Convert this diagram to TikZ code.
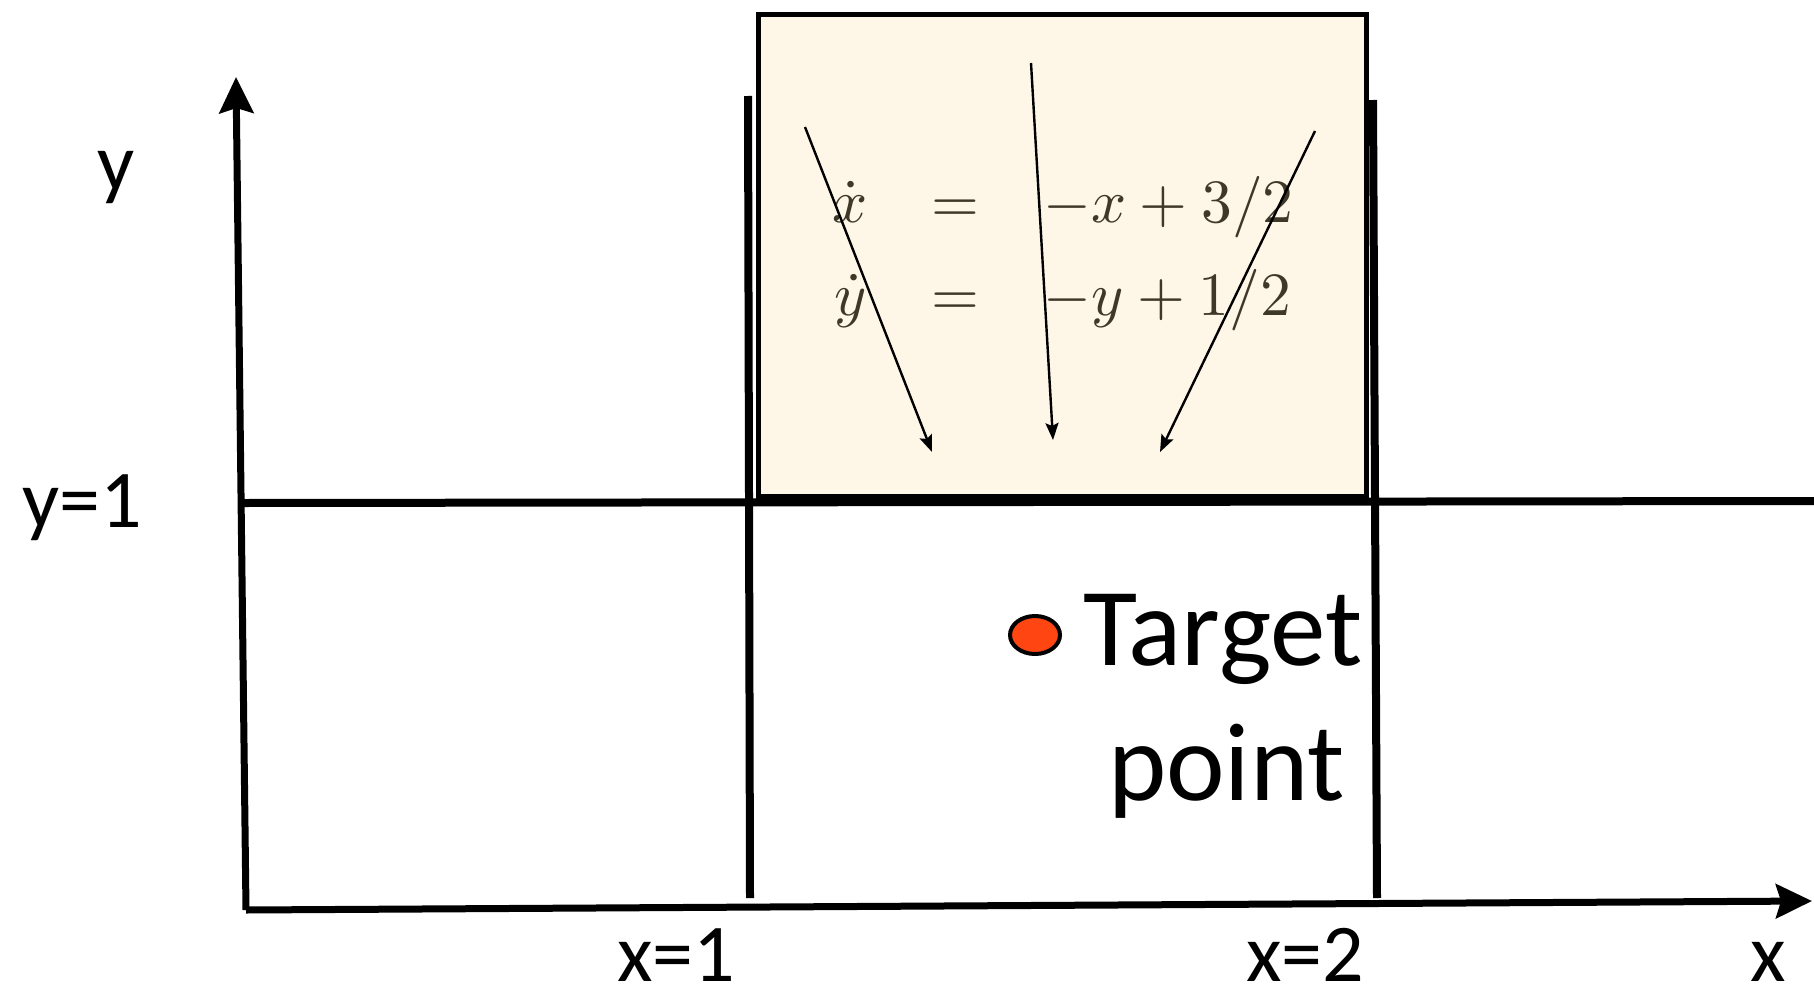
\documentclass[tikz,border=0pt]{standalone}
\usepackage{graphicx}
\usepackage{fontspec}
\setmainfont{Carlito}
\usetikzlibrary{arrows.meta,shapes.geometric}
\definecolor{boxfill}{HTML}{FEF6E7}
\definecolor{eqcol}{HTML}{3E3829}
\definecolor{dotred}{HTML}{FF4512}
\newcommand{\eqm}[1]{\scalebox{6.15}{$#1$}}
\begin{document}
\begin{tikzpicture}[x=1pt,y=-1pt,
  axis/.style={line width=7pt,-{Stealth[length=36pt,width=34pt,inset=5pt]}},
  guide/.style={line width=8pt},
  flow/.style={line width=2.4pt,-{Stealth[length=17pt,width=13pt,inset=3pt]}},
  lbl/.style={font=\fontsize{82}{98}\selectfont,inner sep=0pt,anchor=base west},
  big/.style={font=\fontsize{111}{133}\selectfont,inner sep=0pt,anchor=base west},
  eq/.style={font=\fontsize{10}{12}\selectfont,text=eqcol,inner sep=0pt,anchor=base west}]
\useasboundingbox (0,0) rectangle (1814,990);

% shaded box
\node[draw,line width=5pt,fill=boxfill,inner sep=0pt,minimum width=608pt,minimum height=482pt] (box) at (1062.5,255.5) {};

% equations
\node[eq] (xd) at (832,222) {\eqm{\dot{x}}};
\node[eq] (eqa) at (931,222) {\eqm{=}};
\node[eq] (rhsa) at (1043,222) {\eqm{-x+3/2}};
\node[eq] (yd) at (834,315) {\eqm{\dot{y}}};
\node[eq] (eqb) at (931,315) {\eqm{=}};
\node[eq] (rhsb) at (1043,315) {\eqm{-y+1/2}};

% flow arrows
\coordinate (f1s) at (805,127);
\coordinate (f1e) at (932,452);
\coordinate (f2s) at (1031,63);
\coordinate (f2e) at (1053,440);
\coordinate (f3s) at (1315,131);
\coordinate (f3e) at (1160,452);
\draw[flow] (f1s) -- (f1e);
\draw[flow] (f2s) -- (f2e);
\draw[flow] (f3s) -- (f3e);

% guide lines
\coordinate (v1t) at (748,96);
\coordinate (v1b) at (750,898);
\coordinate (v2t) at (1373,100);
\coordinate (v2b) at (1377,898);
\coordinate (h1l) at (244,503);
\coordinate (h1r) at (1814,501);
\draw[guide] (v1t) -- (v1b);
\draw[guide] (v2t) -- (v2b);
\draw[guide] (h1l) -- (h1r);

% axes
\coordinate (O) at (246,910);
\coordinate (ytip) at (236,77);
\coordinate (xtip) at (1812,901);
\draw[axis] (O) -- (ytip);
\draw[axis] (O) -- (xtip);

% labels
\node[lbl] (ylab) at (97,190) {y};
\node[lbl] (y1lab) at (22,527) {y=1};
\node[lbl] (x1lab) at (617,981) {x=1};
\node[lbl] (x2lab) at (1246,981) {x=2};
\node[lbl] (xlab) at (1750,981) {x};

% target
\node[draw,ellipse,line width=4pt,fill=dotred,inner sep=0pt,minimum width=50pt,minimum height=38pt] (dot) at (1035,635) {};
\node[big] (tgt) at (1083,665) {Target};
\node[big] (pnt) at (1108,800) {point};
\end{tikzpicture}
\end{document}
